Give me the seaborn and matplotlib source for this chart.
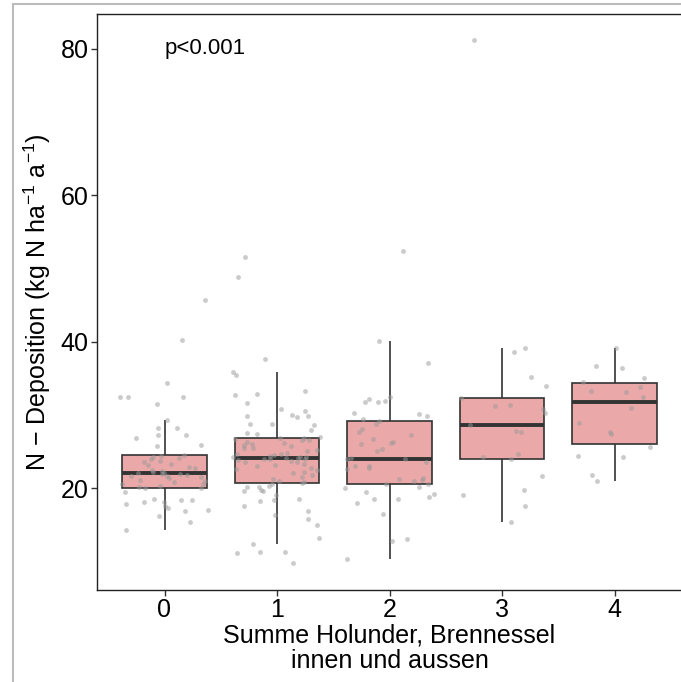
import numpy as np
import pandas as pd
import matplotlib
matplotlib.use("Agg")
import matplotlib.pyplot as plt
import seaborn as sns

# N deposition values per class
dep_0 = [14.2, 15.4, 16.2, 16.9, 17.0, 17.2, 17.6, 17.8, 18.1, 18.1, 18.3, 18.4, 18.5,
         19.5, 20.0, 20.0, 20.2, 20.3, 20.5, 20.6, 20.8, 21.0, 21.1, 21.3, 21.5, 21.6,
         21.7, 21.8, 21.9, 21.9, 22.0, 22.1, 22.2, 22.3, 22.5, 22.7, 22.9, 23.1, 23.3,
         23.5, 23.7, 23.9, 24.1, 24.3, 24.4, 24.5,
         25.8, 25.9, 26.8, 27.2, 27.3, 28.2, 28.2, 29.3, 31.5, 32.4, 32.5, 32.5, 34.3,
         40.2, 45.7]
dep_1 = [9.7, 11.1, 11.3, 11.3, 12.3, 13.2, 15.0, 15.7, 16.3, 16.9, 17.6, 18.2, 18.3,
         18.5, 19.1, 19.6, 19.6, 19.7, 20.1, 20.1, 20.3, 20.6,
         20.7, 20.8, 21.0, 21.2, 21.5, 21.8, 22.0, 22.2, 22.4, 22.6, 22.8, 23.0, 23.2,
         23.3, 23.5, 23.6, 23.7, 23.8, 23.9, 24.0, 24.0, 24.1, 24.1,
         24.2, 24.2, 24.3, 24.4, 24.5, 24.6, 24.7, 24.8, 25.0, 25.2, 25.4, 25.5, 25.7,
         25.9, 26.0, 26.2, 26.3, 26.5, 26.6, 26.7, 26.8, 26.9, 27.0,
         27.4, 27.5, 27.9, 28.6, 28.7, 28.8, 29.7, 29.8, 29.9, 30.0, 30.5, 30.8, 31.6,
         32.7, 32.9, 33.3, 35.4, 35.9, 37.6, 48.8, 51.6]
dep_2 = [10.3, 12.7, 13.0, 16.4, 17.9, 18.5, 18.5, 18.8, 19.2, 19.5, 20.0, 20.1, 20.5,
         20.6, 21.0, 21.1, 21.2, 21.4, 22.6, 22.7, 23.0, 23.0, 23.5, 23.9, 24.0, 24.1,
         25.1, 25.3, 26.0, 26.2, 26.3, 26.7, 27.3, 27.6, 28.1, 28.8, 29.2, 29.4, 29.8,
         30.1, 30.2, 31.8, 31.8, 31.9, 32.2, 32.4, 37.1, 40.1, 52.4]
dep_3 = [15.4, 17.5, 19.1, 19.7, 21.6, 23.9, 24.2, 24.6, 27.6, 27.8, 28.6, 30.2, 30.8,
         31.2, 31.3, 32.3, 34.0, 35.2, 38.6, 39.2, 81.2]
dep_4 = [21.0, 21.8, 24.2, 24.4, 25.6, 27.4, 27.7, 28.9, 31.0, 32.5, 33.1, 33.3, 33.8,
         34.5, 35.1, 36.4, 36.7, 39.2]

classes = ["0", "1", "2", "3", "4"]
y_ticks = [20, 40, 60, 80]
p_label = "p<0.001"

df = pd.concat([pd.DataFrame({"summe": c, "ndep": v})
                for c, v in zip(classes, [dep_0, dep_1, dep_2, dep_3, dep_4])],
               ignore_index=True)

sns.set_theme(style="white")
plt.rcParams["font.family"] = ["Liberation Sans", "DejaVu Sans"]
plt.rcParams["mathtext.fontset"] = "custom"
plt.rcParams["mathtext.rm"] = "Liberation Sans"
plt.rcParams["mathtext.it"] = "Liberation Sans:italic"

W, H = 681, 682
fig = plt.figure(figsize=(W / 100, H / 100), dpi=100)
ax = fig.add_axes([97 / W, 92 / H, 585 / W, 576 / H])

sns.boxplot(data=df, x="summe", y="ndep", order=classes, ax=ax,
            color="#EAA8A8", saturation=1, width=0.75, showfliers=False,
            showcaps=False, linecolor="#333333", linewidth=1.2,
            medianprops={"linewidth": 2.8, "color": "#333333"})

np.random.seed(7)
sns.stripplot(data=df, x="summe", y="ndep", order=classes, ax=ax,
              jitter=0.4, color="#999999", alpha=0.5, size=3.5,
              linewidth=0, zorder=5)

ax.text(0, 80, p_label, ha="left", va="center", fontsize=16, color="black")

ax.set_xlim(-0.6, 4.6)
ax.set_ylim(6.06, 84.78)
ax.set_yticks(y_ticks)
ax.set_yticklabels([str(t) for t in y_ticks])

ax.set_xlabel("Summe Holunder, Brennessel\ninnen und aussen", fontsize=18,
              color="black", linespacing=1.1)
ax.set_ylabel(r"N $-$ Deposition (kg N ha$^{-1}$ a$^{-1}$)", fontsize=18,
              color="black")
ax.xaxis.set_label_coords(0.5, -0.058)
ax.yaxis.set_label_coords(-0.076, 0.5)

ax.tick_params(axis="both", which="major", direction="out", length=4, width=1,
               color="#333333", labelsize=18, labelcolor="black", pad=2,
               bottom=True, left=True)
for s in ax.spines.values():
    s.set_color("#222222")
    s.set_linewidth(1.0)

# light grey frame of the original image
fig.add_artist(plt.Line2D([13 / W, 13 / W], [0, 1 - 4 / H], color="#BBBBBB", lw=1.5))
fig.add_artist(plt.Line2D([13 / W, 1], [1 - 4 / H, 1 - 4 / H], color="#BBBBBB", lw=1.5))

fig.savefig("out.png", dpi=100)
